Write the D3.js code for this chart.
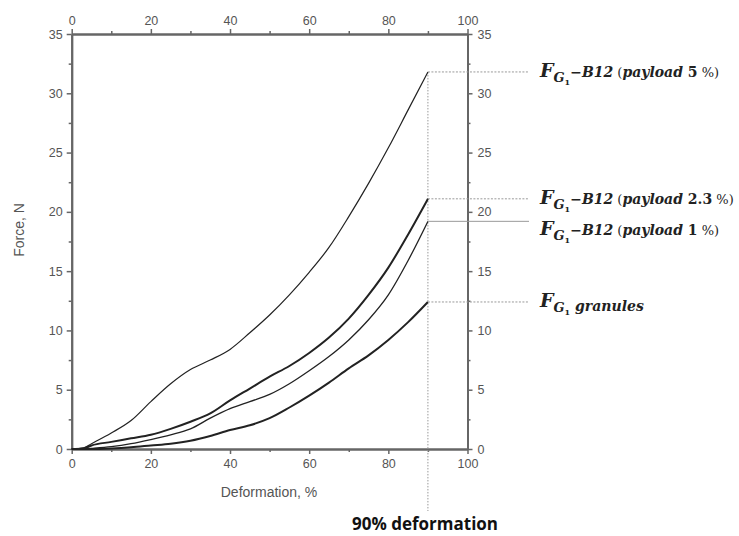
<!DOCTYPE html>
<html>
<head>
<meta charset="utf-8">
<script src="https://cdn.jsdelivr.net/npm/d3@7"></script>
<style>
  body { margin: 0; background: #fff; }
  .ax text { font-family: 'Liberation Sans', Arial, sans-serif; font-size: 12.5px; fill: #555; }
  .ax path, .ax line { stroke: #666; }
  .lbl { font-family: 'DejaVu Serif', serif; fill: #222; }
</style>
</head>
<body>
<svg id="container" width="739" height="536"></svg>
<script>
const deformation = [0, 3, 5, 10, 15, 20, 25, 30, 35, 40, 45, 50, 55, 60, 65, 70, 75, 80, 85, 90]
const payload5 = [0, 0.1, 0.45, 1.35, 2.4, 4.0, 5.5, 6.7, 7.5, 8.4, 9.8, 11.3, 13.0, 14.9, 17.0, 19.6, 22.4, 25.4, 28.6, 31.8]
const payload23 = [0, 0.05, 0.3, 0.6, 0.9, 1.2, 1.7, 2.3, 3.0, 4.1, 5.1, 6.1, 7.0, 8.1, 9.4, 11.0, 13.0, 15.3, 18.1, 21.1]
const payload1 = [0, 0, 0.05, 0.2, 0.45, 0.8, 1.2, 1.7, 2.6, 3.4, 4.0, 4.6, 5.5, 6.6, 7.8, 9.2, 10.9, 13.0, 15.9, 19.2]
const granules = [0, 0, 0, 0.05, 0.15, 0.3, 0.45, 0.7, 1.1, 1.6, 2.0, 2.6, 3.5, 4.5, 5.6, 6.8, 7.9, 9.2, 10.7, 12.4]

const xTicks = [0, 20, 40, 60, 80, 100]
const xMinor = [10, 30, 50, 70, 90]
const yTicks = [0, 5, 10, 15, 20, 25, 30, 35]
const yMinor = [2.5, 7.5, 12.5, 17.5, 22.5, 27.5, 32.5]
const cutoff = 90

const series = [
  { values: payload5, width: 1.2, sub: 'G', rest: '−B12', payload: '5', dy: 5 },
  { values: payload23, width: 2, sub: 'G', rest: '−B12', payload: '2.3', dy: 5 },
  { values: payload1, width: 1.3, sub: 'G', rest: '−B12', payload: '1', dy: 14, solid: true },
  { values: granules, width: 2, sub: 'G', rest: null, payload: null, dy: 5 }
]

const svg = d3.select('#container')
const xScale = d3.scaleLinear().domain([0, 100]).range([71.7, 467.5])
const yScale = d3.scaleLinear().domain([0, 35]).range([449, 34])

const addAxis = (axis, transform) => {
  const g = svg.append('g').attr('class', 'ax').attr('transform', transform).call(axis)
  g.select('.domain').attr('stroke-width', 2)
  return g
}

// major axes
addAxis(d3.axisBottom(xScale).tickValues(xTicks).tickSize(5).tickSizeOuter(0).tickPadding(5), 'translate(0,449)')
addAxis(d3.axisTop(xScale).tickValues(xTicks).tickSize(5).tickSizeOuter(0).tickPadding(4), 'translate(0,34)')
addAxis(d3.axisLeft(yScale).tickValues(yTicks).tickSize(5).tickSizeOuter(0).tickPadding(4), 'translate(71.7,0)')
addAxis(d3.axisRight(yScale).tickValues(yTicks).tickSize(5).tickSizeOuter(0).tickPadding(5), 'translate(467.5,0)')
// minor ticks
const noLabel = () => ''
addAxis(d3.axisBottom(xScale).tickValues(xMinor).tickSize(3).tickSizeOuter(0).tickFormat(noLabel), 'translate(0,449)')
addAxis(d3.axisTop(xScale).tickValues(xMinor).tickSize(3).tickSizeOuter(0).tickFormat(noLabel), 'translate(0,34)')
addAxis(d3.axisLeft(yScale).tickValues(yMinor).tickSize(3).tickSizeOuter(0).tickFormat(noLabel), 'translate(71.7,0)')
addAxis(d3.axisRight(yScale).tickValues(yMinor).tickSize(3).tickSizeOuter(0).tickFormat(noLabel), 'translate(467.5,0)')
svg.selectAll('.ax .tick line').attr('stroke-width', 1.5)

// axis titles
svg.append('text')
  .attr('x', 269).attr('y', 497)
  .attr('text-anchor', 'middle')
  .style('font-family', "'Liberation Sans', Arial, sans-serif")
  .style('font-size', '14px').style('fill', '#555')
  .text('Deformation, %')
svg.append('text')
  .attr('transform', 'translate(24,230) rotate(-90)')
  .attr('text-anchor', 'middle')
  .style('font-family', "'Liberation Sans', Arial, sans-serif")
  .style('font-size', '14px').style('fill', '#555')
  .text('Force, N')

// 90% guide
const lastY = (s) => yScale(s.values[s.values.length - 1])
svg.append('line')
  .attr('x1', xScale(cutoff)).attr('x2', xScale(cutoff))
  .attr('y1', lastY(series[0])).attr('y2', 511)
  .attr('stroke', '#999').attr('stroke-width', 1).attr('stroke-dasharray', '1.5,1.5')

svg.append('text')
  .attr('x', 352).attr('y', 530)
  .style('font-family', "'Open Sans', sans-serif")
  .style('font-weight', 'bold').style('font-size', '17px').style('fill', '#111')
  .text('90% deformation')

// curves
const line = d3.line()
  .x((d, i) => xScale(deformation[i]))
  .y((d) => yScale(d))
  .curve(d3.curveMonotoneX)

svg.selectAll('path.curve')
  .data(series)
  .enter()
  .append('path')
  .attr('class', 'curve')
  .attr('d', (d) => line(d.values))
  .attr('fill', 'none')
  .attr('stroke', '#222')
  .attr('stroke-width', (d) => d.width)

// connectors + labels
series.forEach((s) => {
  const y = lastY(s)
  svg.append('line')
    .attr('x1', xScale(cutoff)).attr('x2', 529)
    .attr('y1', y).attr('y2', y)
    .attr('stroke', '#999').attr('stroke-width', 1)
    .attr('stroke-dasharray', s.solid ? null : '2,1.5')

  const t = svg.append('text').attr('class', 'lbl').attr('x', 540).attr('y', y + s.dy)
  t.append('tspan').style('font-size', '19px').style('font-weight', 'bold').style('font-style', 'italic').text('F')
  t.append('tspan').attr('dy', 5).style('font-size', '13px').style('font-weight', 'bold').style('font-style', 'italic').text(s.sub)
  t.append('tspan').attr('dy', 3).style('font-size', '8px').style('font-weight', 'bold').text('1')
  if (s.rest) {
    t.append('tspan').attr('dy', -8).style('font-size', '14px').style('font-weight', 'bold').style('font-style', 'italic').text(s.rest)
    t.append('tspan').style('font-size', '13px').text(' (')
    t.append('tspan').style('font-size', '14px').style('font-weight', 'bold').style('font-style', 'italic').text('payload ')
    t.append('tspan').style('font-size', '14px').style('font-weight', 'bold').text(s.payload)
    t.append('tspan').style('font-size', '13px').text(' %)')
  } else {
    t.append('tspan').attr('dy', -4).style('font-size', '14px').style('font-weight', 'bold').style('font-style', 'italic').text(' granules')
  }
})
</script>
</body>
</html>
